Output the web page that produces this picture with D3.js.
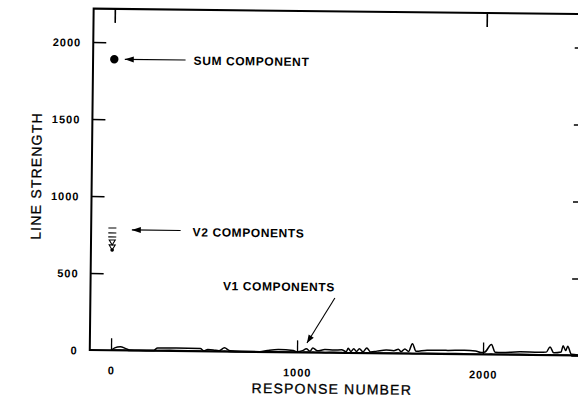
<!DOCTYPE html>
<html>
<head>
<meta charset="utf-8">
<script src="https://cdn.jsdelivr.net/npm/d3@7"></script>
<style>
  body { margin: 0; background: #fff; }
  svg { display: block; }
  text { font-family: "Liberation Sans", Arial, Helvetica, sans-serif; fill: #000; }
</style>
</head>
<body>
<svg id="chart" width="578" height="399"></svg>
<script>
// Axis ticks
const xTicks = [0, 1000, 2000];
const yTicks = [0, 500, 1000, 1500, 2000];
const xTopTicks = [0, 2000];

// Sum component (single strong line)
const sumResponse = [0];
const sumStrength = [1890];

// V2 components (cluster at the first response)
const v2Response = [0, 0, 0, 0, 0, 0];
const v2Strength = [794, 762, 736, 703, 671, 651];

// V1 components along the response axis: upper and lower envelope traces
const v1Response = [0, 20, 50, 80, 100, 150, 230, 250, 350, 480, 500, 520, 550, 580, 610, 640, 700, 800,
  840, 900, 980, 1000, 1030, 1050, 1070, 1085, 1110, 1150, 1200, 1240, 1265, 1275, 1290, 1305, 1320,
  1335, 1355, 1375, 1395, 1430, 1480, 1520, 1545, 1560, 1580, 1600, 1620, 1640, 1700, 1800, 1900,
  1960, 1990, 2010, 2045, 2065, 2100, 2200, 2300, 2340, 2360, 2380, 2420, 2430, 2445, 2455, 2475, 2520];
const v1Upper = [0, 16, 24, 12, 3, 2, 4, 18, 20, 18, 3, 12, 10, 4, 24, 6, 3, 2,
  10, 18, 12, 4, 12, 24, 8, 30, 12, 20, 18, 20, 8, 30, 10, 28, 10,
  28, 8, 34, 8, 14, 22, 18, 28, 12, 30, 14, 65, 16, 24, 24, 26,
  22, 12, 16, 66, 16, 14, 20, 18, 20, 54, 16, 22, 62, 32, 60, 8, 4];
const v1Lower = [0, 2, 3, 2, 0, 0, 0, 2, 4, 2, 0, 2, 1, 1, 3, 1, 0, 0,
  2, 3, 2, 1, 2, 3, 2, 3, 2, 2, 3, 2, 1, 2, 2, 2, 2,
  2, 1, 2, 1, 2, 3, 2, 3, 2, 3, 2, 2, 2, 4, 4, 4,
  2, 2, 2, 3, 2, 3, 4, 3, 2, 3, 2, 3, 3, 2, 3, 1, 1];

const svg = d3.select("#chart");
const g = svg.append("g").attr("transform", "rotate(0.65, 300, 200)");

const x = d3.scaleLinear().domain([-114, 2523]).range([91.5, 582]);
const y = d3.scaleLinear().domain([0, 2000]).range([352.4, 44.4]);
const plotLeft = x.range()[0], plotRight = x.range()[1];
const plotTop = y(2217), plotBottom = y(0);

// Frame
g.append("rect")
  .attr("x", plotLeft).attr("y", plotTop)
  .attr("width", plotRight - plotLeft).attr("height", plotBottom - plotTop)
  .attr("fill", "none").attr("stroke", "#000").attr("stroke-width", 2);

// Left axis: inward ticks with labels
const yAxisL = d3.axisLeft(y).tickValues(yTicks).tickSizeInner(-13).tickSizeOuter(0).tickPadding(12).tickFormat(d3.format("d"));
const gyl = g.append("g").attr("transform", `translate(${plotLeft},0)`).call(yAxisL);
gyl.select(".domain").remove();
gyl.selectAll(".tick line").attr("stroke", "#000").attr("stroke-width", 1.6)
  .filter(d => d === 0).remove();
gyl.selectAll(".tick text")
  .style("font-size", "11px").style("font-weight", "bold").style("letter-spacing", "1px")
  .attr("dy", "0.36em");

// Right axis: inward ticks only
const yAxisR = d3.axisRight(y).tickValues(yTicks).tickSizeInner(-9).tickSizeOuter(0).tickFormat("");
const gyr = g.append("g").attr("transform", `translate(${plotRight},0)`).call(yAxisR);
gyr.select(".domain").remove();
gyr.selectAll(".tick line").attr("stroke", "#000").attr("stroke-width", 1.6);

// Bottom axis: upward ticks with labels
const xAxisB = d3.axisBottom(x).tickValues(xTicks).tickSizeInner(-12).tickSizeOuter(0).tickPadding(24).tickFormat(d3.format("d"));
const gxb = g.append("g").attr("transform", `translate(0,${plotBottom})`).call(xAxisB);
gxb.select(".domain").remove();
gxb.selectAll(".tick line").attr("stroke", "#000").attr("stroke-width", 1.3);
gxb.selectAll(".tick text")
  .style("font-size", "11px").style("font-weight", "bold").style("letter-spacing", "1px")
  .attr("dy", "0");

// Top axis: downward ticks
const xAxisT = d3.axisTop(x).tickValues(xTopTicks).tickSizeInner(-14).tickSizeOuter(0).tickFormat("");
const gxt = g.append("g").attr("transform", `translate(0,${plotTop})`).call(xAxisT);
gxt.select(".domain").remove();
gxt.selectAll(".tick line").attr("stroke", "#000").attr("stroke-width", 1.6);

// Axis titles
g.append("text")
  .attr("transform", `translate(41,179) rotate(-90)`)
  .attr("text-anchor", "middle")
  .style("font-size", "14px").style("letter-spacing", "1.2px").style("stroke", "#000").style("stroke-width", 0.3)
  .text("LINE STRENGTH");
g.append("text")
  .attr("x", 334).attr("y", 393.5)
  .attr("text-anchor", "middle")
  .style("font-size", "14px").style("letter-spacing", "1.2px").style("stroke", "#000").style("stroke-width", 0.3)
  .text("RESPONSE NUMBER");

// V1 component traces
const v1Line = d3.line()
  .x((d, i) => x(v1Response[i]))
  .y(d => y(d))
  .curve(d3.curveMonotoneX);
g.append("path").datum(v1Lower)
  .attr("d", v1Line).attr("fill", "none").attr("stroke", "#000").attr("stroke-width", 1.5);
g.append("path").datum(v1Upper)
  .attr("d", v1Line).attr("fill", "none").attr("stroke", "#000").attr("stroke-width", 1.5);

// Sum component
g.selectAll(".sum").data(sumStrength).join("circle")
  .attr("class", "sum")
  .attr("cx", (d, i) => x(sumResponse[i]))
  .attr("cy", d => y(d))
  .attr("r", 4.2).attr("fill", "#000");

// V2 components: dashes for the upper lines, small inverted triangles and a dot below
const triDown = "M-3,-2L3,-2L0,3Z";
g.selectAll(".v2").data(v2Strength).join("path")
  .attr("class", "v2")
  .attr("transform", (d, i) => `translate(${x(v2Response[i])},${y(d)})`)
  .attr("d", (d, i) => i < 3 ? "M-4,0H4" : (i < 5 ? triDown : d3.symbol(d3.symbolCircle, 5)()))
  .attr("fill", (d, i) => i < 5 ? "none" : "#000")
  .attr("stroke", "#000").attr("stroke-width", 1.1);

// Annotations
function arrow(x1, y1, x2, y2, head) {
  const ang = Math.atan2(y2 - y1, x2 - x1);
  g.append("line").attr("x1", x1).attr("y1", y1).attr("x2", x2).attr("y2", y2)
    .attr("stroke", "#000").attr("stroke-width", 1.1);
  const hl = head[0], hw = head[1];
  const bx = x2 - hl * Math.cos(ang), by = y2 - hl * Math.sin(ang);
  const px = -Math.sin(ang) * hw, py = Math.cos(ang) * hw;
  g.append("path")
    .attr("d", `M${x2},${y2}L${bx + px},${by + py}L${bx - px},${by - py}Z`)
    .attr("fill", "#000");
}
arrow(184, y(sumStrength[0]), x(sumResponse[0]) + 10.5, y(sumStrength[0]), [9, 3]);
arrow(181, 231.8, x(v2Response[0]) + 19.5, 231.8, [9, 3]);
arrow(336, 297.6, 308.6, 342.9, [8, 3]);

const annStyle = sel => sel.style("font-size", "12px").style("font-weight", "bold").style("letter-spacing", "0.6px");
g.append("text").attr("x", 192).attr("y", 66).text("SUM COMPONENT").call(annStyle);
g.append("text").attr("x", 193).attr("y", 237.5).text("V2 COMPONENTS").call(annStyle);
g.append("text").attr("x", 224).attr("y", 291).text("V1 COMPONENTS").call(annStyle);
</script>
</body>
</html>
